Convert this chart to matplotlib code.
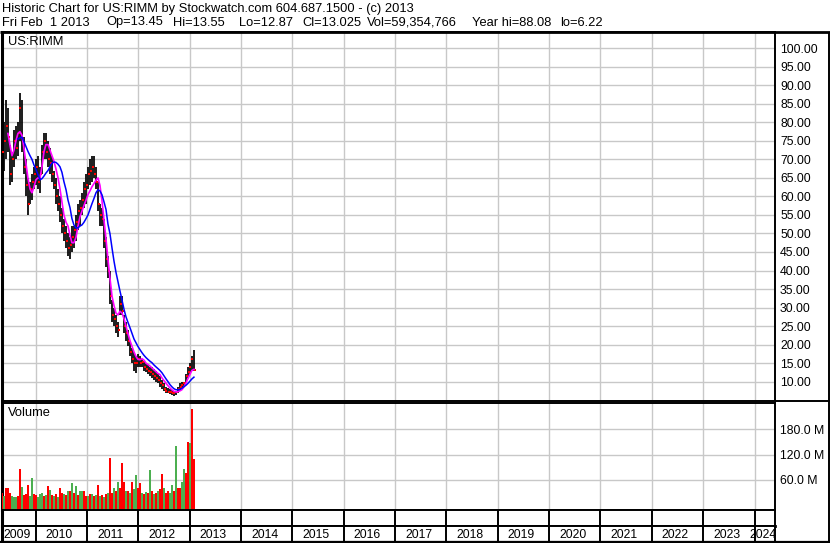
import numpy as np
import pandas as pd
import matplotlib
matplotlib.use('Agg')
import matplotlib.pyplot as plt
from matplotlib.lines import Line2D

# ---------------- data ----------------
start_date = '2009-05-08'
end_date = '2013-02-01'

high = [78, 80, 86, 84, 74, 72, 78, 79, 80, 88,
        86, 76, 70, 65, 64, 66, 68, 70, 71, 68,
        74, 77, 77, 75, 73, 71, 67, 65, 62, 60,
        57, 54, 52, 50, 49, 52, 52, 55, 58, 59,
        61, 64, 66, 68, 70, 71, 71, 68, 64, 58,
        57, 54, 49, 44, 40, 32, 30, 28, 26, 33,
        33, 28, 26, 24, 21, 19, 18, 17, 17.5, 17,
        16, 15.5, 15, 14.5, 14, 14, 13.5, 13, 12, 11.5,
        10.5, 9.5, 8.5, 8.2, 8, 7.8, 7.5, 7.6, 8.5, 9.5,
        9.8, 10, 12, 14, 15, 17, 18.5]
low = [68, 67, 70, 72, 63, 64, 68, 70, 71, 75,
       72, 66, 60, 55, 58, 59, 62, 63, 62, 61,
       66, 70, 70, 68, 66, 64, 62, 58, 56, 53,
       50, 48, 46, 44, 43, 45, 46, 48, 51, 52,
       55, 57, 58, 62, 63, 64, 65, 62, 56, 52,
       52, 46, 41, 38, 31, 26, 25, 23, 22, 28,
       28, 23, 21, 19.5, 17, 15, 13, 12.4, 14, 14,
       14, 13, 12.5, 12, 11.5, 11, 10.5, 10, 9.5, 8.5,
       8, 7.5, 7, 6.8, 6.6, 6.4, 6.22, 6.3, 7, 7.5,
       8, 8.5, 9.5, 11, 12, 13, 12.87]
close = [72, 75, 79, 76, 66, 70, 75, 73, 77, 84,
         75, 68, 63, 58, 62, 64, 66, 68, 64, 66,
         72, 75, 72, 70, 69, 66, 63, 60, 58, 55,
         52, 50, 48, 46, 47, 49, 51, 53, 56, 57,
         59, 62, 63, 66, 67, 68, 66, 64, 58, 55,
         54, 48, 43, 40, 33, 28, 27, 25, 24, 31,
         29, 25, 23, 21, 18, 16, 15, 15, 16, 15,
         15.2, 14, 13.5, 13, 12.5, 12, 11.5, 11, 10.5, 9.5,
         9, 8, 7.5, 7.2, 7.3, 7, 6.8, 7.2, 8, 8.5,
         9, 9.5, 11.5, 12.5, 14, 16, 13.025]

ma_short = [None, None, None, 77, 74, 71, 72.5, 75, 77, 77.5,
            76.5, 73, 69, 65, 62, 61, 62.5, 64.5, 65, 65,
            68, 72, 74, 74, 72.5, 71, 69.5, 67.5, 65, 62,
            58.5, 55, 53, 52, 49.5, 47.5, 47.5, 49, 52, 54.5,
            56, 57.5, 59, 60.5, 61.5, 62.6, 63.5, 64.4, 65, 63,
            59, 53.5, 48.5, 43, 38, 33, 30.5, 28.5, 28, 29,
            28.5, 27, 25, 23, 21, 19.5, 18, 16.8, 16, 15.9,
            16.2, 15.8, 15, 14.6, 14.2, 13.7, 13.2, 12.7, 12.2, 11.9,
            11, 10.3, 9.6, 8.9, 8.3, 7.8, 7.4, 7.2, 7.3, 7.5,
            7.8, 8.5, 9.6, 10.8, 11.9, 13, 13.3]
ma_long = [None, None, None, None, None, None, None, None, 75.5, 75.8,
           76, 74.8, 73.5, 72.2, 71, 70, 68.5, 67.3, 66, 64.5,
           64.8, 65.5, 66.3, 67, 68, 69, 69.3, 69.2, 68.7, 68,
           66.5, 64, 61.8, 59, 57, 54, 52.3, 51.5, 51.5, 52,
           52.3, 53, 54, 55, 56.5, 58, 59.5, 61, 61.8, 61.5,
           60.5, 58.5, 56.5, 52.5, 50, 46, 42.5, 39.5, 37, 34.5,
           32, 29.5, 27.5, 26, 24.5, 23, 21.5, 20.5, 19.5, 18.6,
           17.8, 17.1, 16.5, 16, 15.5, 15.1, 14.5, 14, 13.5, 13,
           12.4, 11.6, 10.8, 10, 9.2, 8.6, 8.1, 7.8, 7.8, 7.9,
           8.2, 8.6, 9, 9.5, 10.1, 10.7, 11.2]

volume_m = [30, 23, 40, 41, 30, 23, 20, 19, 22, 86,
            43, 25, 26, 49, 22, 65, 28, 24, 20, 28,
            30, 22, 25, 46, 37, 24, 22, 26, 20, 41,
            30, 28, 24, 35, 33, 53, 30, 46, 25, 35,
            35, 34, 22, 23, 26, 28, 22, 25, 48, 23,
            25, 20, 28, 30, 112, 30, 42, 35, 55, 41,
            100, 55, 35, 35, 30, 55, 38, 72, 40, 53,
            30, 28, 32, 30, 84, 33, 28, 30, 35, 38,
            74, 41, 30, 35, 30, 48, 35, 140, 40, 42,
            55, 86, 76, 149, 147, 227, 109]
# 1 = up period (green volume bar), 0 = down period (red volume bar)
volume_up = [0, 1, 0, 0, 0, 1, 1, 1, 0, 0,
             1, 0, 0, 0, 1, 1, 0, 0, 1, 1,
             1, 0, 1, 0, 1, 0, 1, 0, 1, 0,
             0, 1, 0, 1, 0, 1, 0, 1, 0, 1,
             1, 0, 0, 1, 0, 1, 0, 1, 0, 1,
             0, 1, 0, 1, 0, 0, 1, 0, 1, 0,
             0, 0, 1, 0, 1, 0, 1, 1, 0, 0,
             1, 0, 1, 0, 1, 0, 1, 0, 1, 0,
             0, 1, 0, 0, 1, 1, 0, 1, 0, 0,
             1, 1, 0, 0, 1, 0, 0]

price_ticks = list(range(10, 101, 5))
volume_ticks = [60, 120, 180]
years = list(range(2009, 2025))

header1 = "Historic Chart for US:RIMM by Stockwatch.com 604.687.1500 - (c) 2013"
header2_fields = ["Fri Feb  1 2013", "Op=13.45", "Hi=13.55", "Lo=12.87",
                  "Cl=13.025", "Vol=59,354,766", "Year hi=88.08", "lo=6.22"]
header2_x = [2, 106, 173, 239, 302, 367, 472, 560]   # pixel positions of fields
symbol = "US:RIMM"

# ---------------- figure ----------------
plt.rcParams['font.family'] = ['Liberation Sans', 'DejaVu Sans']
W, H = 830, 543
fig = plt.figure(figsize=(W / 100, H / 100), dpi=100)
fig.patch.set_facecolor('white')


def fx(x):
    return x / W


def fy(y):
    return 1 - y / H


def rect(l, t, r, b):
    return [fx(l), fy(b), (r - l) / W, (b - t) / H]


FS = 8.8
FS_HEAD = 9.3
GRID = '#c8c8c8'
PX_PER_YEAR = 51.36
XL = 2010 - 33.5 / PX_PER_YEAR
XR = 2010 + 739.5 / PX_PER_YEAR

dates = pd.date_range(start=start_date, end=end_date, periods=len(close))
xd = np.asarray(dates.year + (dates.dayofyear - 1) /
                np.where(dates.is_leap_year, 366.0, 365.0), dtype=float)

ax_p = fig.add_axes(rect(2, 32, 775, 400.5))
ax_v = fig.add_axes(rect(2, 403, 775, 510))
ax_s = fig.add_axes(rect(2, 510, 775, 526))
ax_l = fig.add_axes(rect(2, 526, 775, 541.5))

for ax in (ax_p, ax_v, ax_s, ax_l):
    ax.set_xlim(XL, XR)
    for s in ax.spines.values():
        s.set_color('black')
        s.set_linewidth(1.4)
    ax.spines['left'].set_linewidth(2.2)

# price panel
ax_p.set_ylim(4.9, 104.4)
ax_p.set_xticks(range(2010, 2025))
ax_p.set_yticks(price_ticks)
ax_p.set_yticklabels(['%.2f' % v for v in price_ticks], fontsize=FS)
ax_p.yaxis.tick_right()
ax_p.tick_params(axis='y', length=0, pad=3.6)
ax_p.tick_params(axis='x', length=0, labelbottom=False)
ax_p.grid(True, color=GRID, lw=1.0)
ax_p.set_axisbelow(True)

ax_p.vlines(xd, low, high, color='black', lw=1.25, zorder=3)
ax_p.plot(xd + 0.012, close, ls='none', marker='s', ms=2.0, mew=0,
          color='#ff0000', zorder=4)
ma_s = np.array([np.nan if v is None else v for v in ma_short], dtype=float)
ma_l = np.array([np.nan if v is None else v for v in ma_long], dtype=float)
ax_p.plot(xd, ma_s, color='#ff00ff', lw=1.2, zorder=5)
ax_p.plot(xd, ma_l, color='#0000ff', lw=1.1, zorder=5)

# volume panel
VMIN, VMAX = -10.6, 241.2
ax_v.set_ylim(VMIN, VMAX)
ax_v.set_xticks(range(2010, 2025))
ax_v.set_yticks(volume_ticks)
ax_v.set_yticklabels(['%.1f M' % v for v in volume_ticks], fontsize=FS)
ax_v.yaxis.tick_right()
ax_v.tick_params(axis='y', length=0, pad=3.6)
ax_v.tick_params(axis='x', length=0, labelbottom=False)
ax_v.grid(True, color=GRID, lw=1.0)
ax_v.set_axisbelow(True)
vol = np.array(volume_m, dtype=float)
colors = ['#4caf50' if u else '#ff0000' for u in volume_up]
ax_v.bar(xd, vol - VMIN, bottom=VMIN, width=2.0 / PX_PER_YEAR,
         color=colors, linewidth=0, align='center', zorder=3)

# strip and year label row
for ax in (ax_s, ax_l):
    ax.set_ylim(0, 1)
    ax.set_xticks([])
    ax.set_yticks([])
    for yr in range(2010, 2025):
        ax.axvline(yr, color='black', lw=1.4)
ax_l.spines['bottom'].set_linewidth(2.2)
ax_s.spines['bottom'].set_linewidth(2.0)

for yr in years:
    a = max(yr, XL)
    b = min(yr + 1, XR)
    ax_l.text((a + b) / 2 - 0.04, 0.45, str(yr), ha='center', va='center',
              fontsize=FS, color='black')


# frame lines in figure coordinates
def fline(x0, y0, x1, y1, lw):
    fig.add_artist(Line2D([fx(x0), fx(x1)], [fy(y0), fy(y1)], color='black',
                          lw=lw, transform=fig.transFigure,
                          solid_capstyle='butt'))


fline(0, 31.5, 830, 31.5, 2.0)
fline(775, 400.7, 830, 400.7, 1.4)
fline(828.5, 31.5, 828.5, 542, 1.4)
fline(0, 541.8, 830, 541.8, 1.6)

# texts
fig.text(fx(2), fy(9), header1, fontsize=FS_HEAD, va='center', ha='left')
for txt, px in zip(header2_fields, header2_x):
    fig.text(fx(px), fy(22.5), txt, fontsize=FS_HEAD, va='center', ha='left')
fig.text(fx(8), fy(42), symbol, fontsize=FS_HEAD, va='center', ha='left')
fig.text(fx(8), fy(413), 'Volume', fontsize=FS_HEAD, va='center', ha='left')

fig.savefig('out.png', dpi=100, facecolor='white')
